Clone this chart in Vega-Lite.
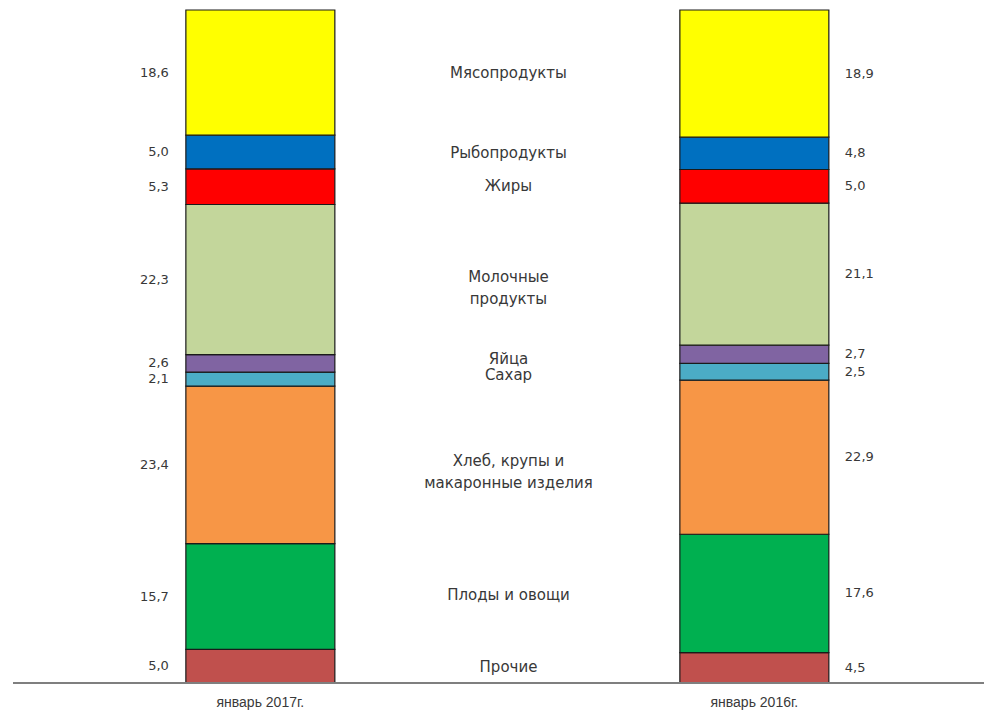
{
  "$schema": "https://vega.github.io/schema/vega-lite/v6.json",
  "width": 971,
  "height": 673,
  "autosize": {"type": "none"},
  "padding": {"left": 13, "top": 10, "right": 0, "bottom": 39},
  "config": {
    "view": {"stroke": null},
    "font": "Liberation Sans",
    "locale": {"number": {"decimal": ",", "thousands": " ", "grouping": [3], "currency": ["", ""]}}
  },
  "data": {
    "values": [
      {"year": "январь 2017г.", "cat": "Прочие", "val": 5.0, "ord": 1},
      {"year": "январь 2017г.", "cat": "Плоды и овощи", "val": 15.7, "ord": 2},
      {"year": "январь 2017г.", "cat": "Хлеб, крупы и\nмакаронные изделия", "val": 23.4, "ord": 3},
      {"year": "январь 2017г.", "cat": "Сахар", "val": 2.1, "ord": 4},
      {"year": "январь 2017г.", "cat": "Яйца", "val": 2.6, "ord": 5},
      {"year": "январь 2017г.", "cat": "Молочные\nпродукты", "val": 22.3, "ord": 6},
      {"year": "январь 2017г.", "cat": "Жиры", "val": 5.3, "ord": 7},
      {"year": "январь 2017г.", "cat": "Рыбопродукты", "val": 5.0, "ord": 8},
      {"year": "январь 2017г.", "cat": "Мясопродукты", "val": 18.6, "ord": 9},
      {"year": "январь 2016г.", "cat": "Прочие", "val": 4.5, "ord": 1},
      {"year": "январь 2016г.", "cat": "Плоды и овощи", "val": 17.6, "ord": 2},
      {"year": "январь 2016г.", "cat": "Хлеб, крупы и\nмакаронные изделия", "val": 22.9, "ord": 3},
      {"year": "январь 2016г.", "cat": "Сахар", "val": 2.5, "ord": 4},
      {"year": "январь 2016г.", "cat": "Яйца", "val": 2.7, "ord": 5},
      {"year": "январь 2016г.", "cat": "Молочные\nпродукты", "val": 21.1, "ord": 6},
      {"year": "январь 2016г.", "cat": "Жиры", "val": 5.0, "ord": 7},
      {"year": "январь 2016г.", "cat": "Рыбопродукты", "val": 4.8, "ord": 8},
      {"year": "январь 2016г.", "cat": "Мясопродукты", "val": 18.9, "ord": 9}
    ]
  },
  "transform": [
    {"stack": "val", "groupby": ["year"], "sort": [{"field": "ord", "order": "ascending"}], "as": ["v0", "v1"]},
    {"calculate": "(datum.v0 + datum.v1) / 2", "as": "mid"}
  ],
  "layer": [
    {
      "mark": {"type": "bar", "stroke": "#1a1a1a", "strokeWidth": 1.2},
      "encoding": {
        "x": {
          "field": "year", "type": "nominal", "sort": ["январь 2017г.", "январь 2016г."],
          "scale": {"paddingInner": 0.6984, "paddingOuter": 0.332, "align": 0.527},
          "axis": {"title": null, "domain": false, "ticks": false, "labelAngle": 0, "labelFontSize": 14, "labelColor": "#3a3a3a", "labelPadding": 12, "labelFont": "Liberation Sans"}
        },
        "y": {"field": "v1", "type": "quantitative", "scale": {"domain": [0, 100], "nice": false, "zero": true}, "axis": null},
        "y2": {"field": "v0"},
        "color": {
          "field": "cat", "type": "nominal", "legend": null,
          "scale": {
            "domain": ["Прочие", "Плоды и овощи", "Хлеб, крупы и\nмакаронные изделия", "Сахар", "Яйца", "Молочные\nпродукты", "Жиры", "Рыбопродукты", "Мясопродукты"],
            "range": ["#C0504D", "#00B050", "#F79646", "#4BACC6", "#8064A2", "#C3D69B", "#FF0000", "#0070C0", "#FFFF00"]
          }
        }
      }
    },
    {
      "transform": [{"filter": "datum.year == 'январь 2017г.'"}],
      "mark": {"type": "text", "align": "right", "baseline": "middle", "dx": -17, "font": "DejaVu Sans", "fontSize": 13, "color": "#383838"},
      "encoding": {
        "x": {"field": "year", "type": "nominal", "sort": ["январь 2017г.", "январь 2016г."], "bandPosition": 0},
        "y": {"field": "mid", "type": "quantitative"},
        "text": {"field": "val", "type": "quantitative", "format": ".1f"}
      }
    },
    {
      "transform": [{"filter": "datum.year == 'январь 2016г.'"}],
      "mark": {"type": "text", "align": "left", "baseline": "middle", "dx": 16, "font": "DejaVu Sans", "fontSize": 13, "color": "#383838"},
      "encoding": {
        "x": {"field": "year", "type": "nominal", "sort": ["январь 2017г.", "январь 2016г."], "bandPosition": 1},
        "y": {"field": "mid", "type": "quantitative"},
        "text": {"field": "val", "type": "quantitative", "format": ".1f"}
      }
    },
    {
      "transform": [{"aggregate": [{"op": "mean", "field": "mid", "as": "m"}], "groupby": ["cat"]}],
      "mark": {"type": "text", "align": "center", "baseline": "middle", "dx": 10, "font": "DejaVu Sans", "fontSize": 15, "lineBreak": "\n", "lineHeight": 22, "color": "#383838"},
      "encoding": {
        "y": {"field": "m", "type": "quantitative"},
        "text": {"field": "cat", "type": "nominal"}
      }
    },
    {
      "mark": {"type": "rule", "color": "#7f7f7f", "strokeWidth": 2},
      "encoding": {"y": {"datum": 0}}
    }
  ]
}
